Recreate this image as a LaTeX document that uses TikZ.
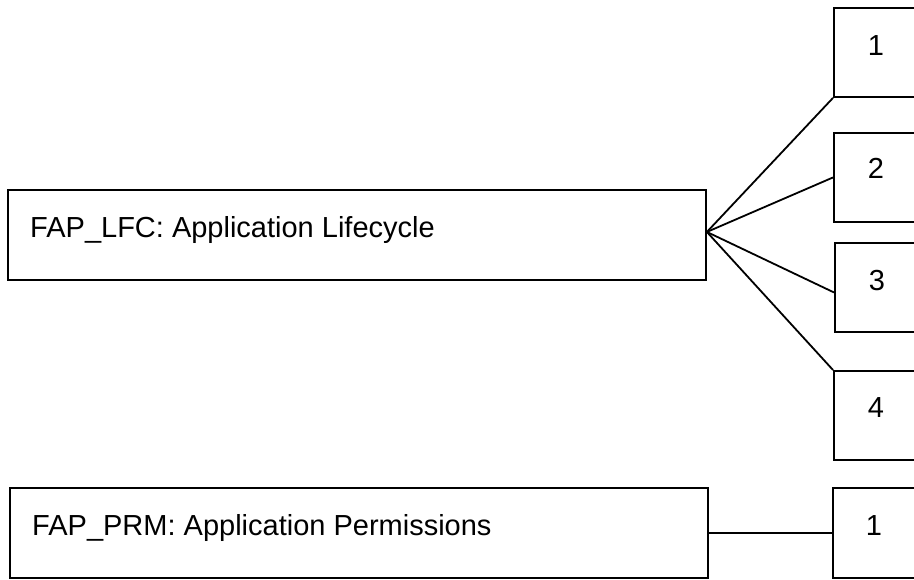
\documentclass[tikz,border=0pt]{standalone}
\usepackage{fontspec}
\setmainfont{Liberation Sans}
\usetikzlibrary{calc}
\begin{document}
\begin{tikzpicture}[x=1pt,y=-1pt,
  box/.style={draw,line width=1.9pt,inner sep=0pt,anchor=north west},
  lbl/.style={inner sep=0pt,font=\fontsize{29}{34}\selectfont},
  conn/.style={line width=1.8pt}]
\useasboundingbox (0,0) rectangle (914,579);
\clip (0,0) rectangle (914,579);
\fill[white] (0,0) rectangle (914,579);
% left boxes
\node[box,minimum width=698pt,minimum height=90pt] (lfc) at (7,189) {};
\node[box,minimum width=698pt,minimum height=90pt] (prm) at (9,487) {};
% right boxes (cut at the right edge)
\node[box,minimum width=100pt,minimum height=89pt] (b1) at (833,7) {};
\node[box,minimum width=100pt,minimum height=89pt] (b2) at (833,132) {};
\node[box,minimum width=100pt,minimum height=89pt] (b3) at (834,242) {};
\node[box,minimum width=100pt,minimum height=89pt] (b4) at (833,370) {};
\node[box,minimum width=100pt,minimum height=90pt] (p1) at (832,487) {};
% texts
\node[lbl,anchor=base west] (tlfc) at (30,237) {FAP\_LFC: Application Lifecycle};
\node[lbl,anchor=base west] (tprm) at (32,535) {FAP\_PRM: Application Permissions};
\node[lbl,anchor=base] (t1) at (876,55) {1};
\node[lbl,anchor=base] (t2) at (876,178) {2};
\node[lbl,anchor=base] (t3) at (877,290) {3};
\node[lbl,anchor=base] (t4) at (876,417) {4};
\node[lbl,anchor=base] (t5) at (874,535) {1};
% connectors
\coordinate (c) at ([yshift=3pt]lfc.east);
\draw[conn] (c) -- (b1.south west);
\draw[conn] (c) -- (b2.west);
\draw[conn] (c) -- ([yshift=-5pt]b3.west);
\draw[conn] (c) -- (b4.north west);
\draw[conn] (prm.east) -- (p1.west);
\end{tikzpicture}
\end{document}
